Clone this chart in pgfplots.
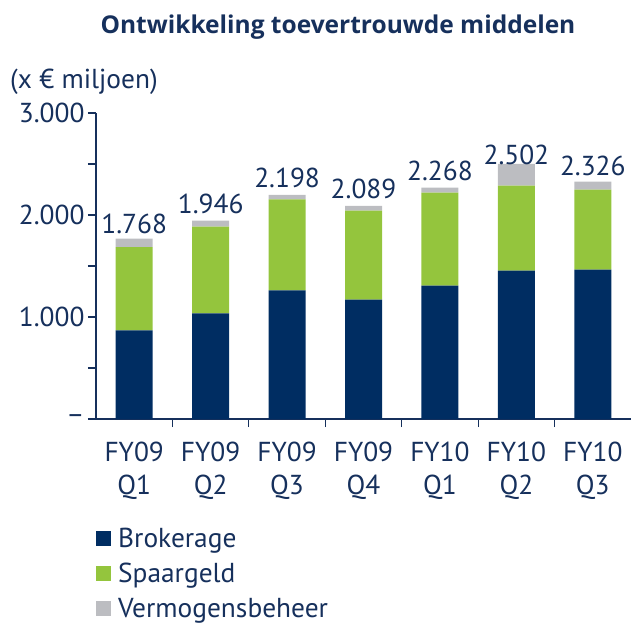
\documentclass[border=0pt]{standalone}
\usepackage{fontspec}
\setmainfont{PT Sans}
\newfontfamily\titlefont{Open Sans}
\usepackage{pgfplots}
\pgfplotsset{compat=1.18}
\definecolor{navy}{RGB}{0,45,98}
\definecolor{txt}{RGB}{22,48,92}
\definecolor{lime}{RGB}{148,197,61}
\definecolor{lgrey}{RGB}{188,189,193}

\begin{document}
\begin{tikzpicture}[x=1bp,y=1bp]
\path[use as bounding box] (-96,-205) rectangle (535,419);
\begin{axis}[
  at={(0,0)}, anchor=south west,
  scale only axis, width=535bp, height=306bp,
  xmin=-0.5, xmax=6.5, ymin=0, ymax=3000,
  ybar stacked, bar width=37bp,
  axis x line*=bottom, axis y line*=left,
  axis line style={txt, line width=1.2bp},
  tick align=outside,
  major tick length=8bp,
  tick style={txt, line width=1.2bp},
  ytick={0,500,...,3000},
  yticklabels={{--},{},{1.000},{},{2.000},{},{3.000}},
  yticklabel style={font=\fontsize{27.5}{28}\selectfont, text=txt},
  xtick={0.5,1.5,...,5.5},
  xticklabels={},
  extra x ticks={0,1,...,6},
  extra x tick labels={{FY09\\Q1},{FY09\\Q2},{FY09\\Q3},{FY09\\Q4},{FY10\\Q1},{FY10\\Q2},{FY10\\Q3}},
  extra x tick style={major tick length=0pt,
    xticklabel style={align=center, font=\fontsize{27.5}{34}\selectfont, text=txt, yshift=-19bp}},
  legend style={draw=none, fill=none, at={(0,-0.35)}, anchor=north west,
    font=\fontsize{27.5}{28}\selectfont, text=txt, inner sep=0pt, row sep=10bp,
    /tikz/every odd column/.append style={column sep=5bp}},
  legend cell align=left,
  legend image code/.code={\fill[#1] (0bp,-7.5bp) rectangle (15bp,7.5bp);},
]
\addplot[fill=navy, draw=none] coordinates {(0,870)(1,1036)(2,1261)(3,1170)(4,1307)(5,1454)(6,1464)};
\addlegendentry{Brokerage}
\addplot[fill=lime, draw=none] coordinates {(0,815)(1,850)(2,893)(3,872)(4,912)(5,834)(6,784)};
\addlegendentry{Spaargeld}
\addplot[fill=lgrey, draw=none,
  point meta=explicit symbolic,
  nodes near coords,
  nodes near coords style={font=\fontsize{27.5}{28}\selectfont, text=txt, anchor=south, yshift=6bp}]
  coordinates {(0,83)[1.768] (1,60)[1.946] (2,44)[2.198] (3,47)[2.089] (4,49)[2.268] (5,214)[2.502] (6,78)[2.326]};
\addlegendentry{Vermogensbeheer}
\end{axis}
\node[anchor=west, font=\fontsize{27.5}{28}\selectfont, text=txt, inner sep=0pt] at (-86,337) {(x € miljoen)};
\node[font=\titlefont\bfseries\fontsize{24.6}{28}\selectfont, text=txt] at (242,392) {Ontwikkeling toevertrouwde middelen};
\end{tikzpicture}
\end{document}
